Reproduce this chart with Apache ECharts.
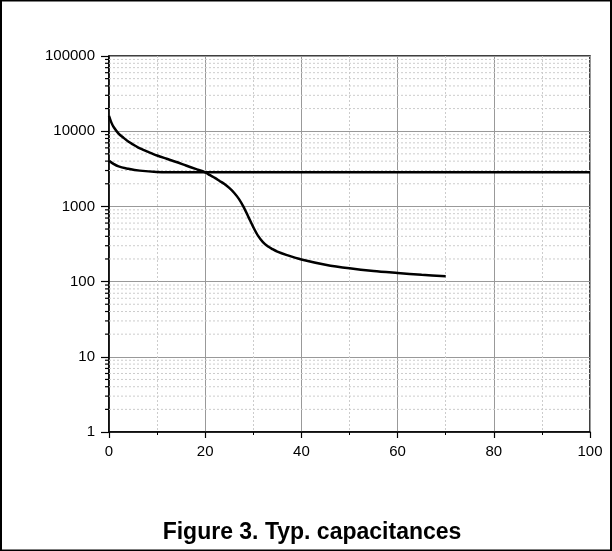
<!DOCTYPE html>
<html>
<head>
<meta charset="utf-8">
<script src="https://cdn.jsdelivr.net/npm/echarts@6/dist/echarts.min.js"></script>
<style>
html,body{margin:0;padding:0;background:#fff;}
#c{width:612px;height:551px;}
</style>
</head>
<body>
<div id="c"></div>
<script>
// Curve 1 (falling capacitance)
const curve1X = [0, 0.5, 1, 2, 3, 4, 5, 6, 7, 8, 10, 12, 14, 16, 18, 20, 21, 22, 23, 24, 25, 26, 27, 28, 29, 30, 31, 32, 33, 34, 35, 37, 40, 45, 50, 55, 60, 65, 70];
const curve1Y = [16000, 13000, 11300, 9300, 8200, 7300, 6650, 6100, 5700, 5350, 4750, 4300, 3900, 3500, 3150, 2840, 2600, 2400, 2180, 1980, 1760, 1520, 1260, 980, 720, 530, 405, 335, 295, 270, 250, 225, 197, 168, 150, 138, 130, 123, 118];
// Curve 2 (flat capacitance)
const curve2X = [0, 1, 2, 3.7, 6.4, 9.9, 15, 100];
const curve2Y = [4040, 3650, 3400, 3200, 2990, 2870, 2840, 2840];
// Axis ticks
const xTicks = [0, 20, 40, 60, 80, 100];
const yTicks = [1, 10, 100, 1000, 10000, 100000];
const minorY = [];
for (let d = 0; d < 5; d++) { for (let m = 2; m <= 9; m++) { minorY.push(m * Math.pow(10, d)); } }
const titleText = 'Figure 3. Typ. capacitances';

const chart = echarts.init(document.getElementById('c'), null, {renderer: 'canvas'});
const font = 'Arial, "Liberation Sans", Helvetica, sans-serif';

chart.setOption({
  animation: false,
  backgroundColor: '#fff',
  grid: {left: 109, right: 22, top: 56, bottom: 119, show: true, borderColor: '#000', borderWidth: 1.5, backgroundColor: 'transparent'},
  xAxis: {
    type: 'value', min: xTicks[0], max: xTicks[xTicks.length - 1], interval: 20,
    axisLine: {show: true, onZero: false, lineStyle: {color: '#000', width: 1.5}},
    axisTick: {show: true, length: 6, lineStyle: {color: '#000', width: 1.2}},
    minorTick: {show: true, splitNumber: 2, length: 3, lineStyle: {color: '#000', width: 1}},
    splitLine: {show: true, lineStyle: {color: '#999', width: 1}},
    minorSplitLine: {show: true, lineStyle: {color: '#ccc', width: 1, type: [2, 2]}},
    axisLabel: {color: '#000', fontSize: 15, fontFamily: font, margin: 12, formatter: v => String(v)}
  },
  yAxis: {
    type: 'log', logBase: 10, min: yTicks[0], max: yTicks[yTicks.length - 1],
    axisLine: {show: true, onZero: false, lineStyle: {color: '#000', width: 1.5}},
    axisTick: {show: true, length: 8, lineStyle: {color: '#000', width: 1.2}},
    splitLine: {show: true, lineStyle: {color: '#999', width: 1}},
    axisLabel: {color: '#000', fontSize: 15, fontFamily: font, margin: 14, formatter: v => String(Math.round(v))}
  },
  graphic: [
    {type: 'rect', shape: {x: 1, y: 0.5, width: 610, height: 550}, style: {fill: 'none', stroke: '#000', lineWidth: 2}, silent: true},
    {type: 'text', x: 312, y: 533, style: {text: titleText, font: 'bold 23px ' + font, fill: '#000', align: 'center', verticalAlign: 'middle'}}
  ],
  series: [
    {
      type: 'custom', silent: true, z: 1,
      data: minorY.map(v => [0, v]),
      renderItem: function (params, api) {
        const v = api.value(1);
        const p0 = api.coord([0, v]);
        const p1 = api.coord([100, v]);
        return {type: 'group', children: [
          {type: 'line', shape: {x1: p0[0], y1: p0[1], x2: p1[0], y2: p1[1]}, style: {stroke: '#ccc', lineWidth: 1, lineDash: [2, 2]}},
          {type: 'line', shape: {x1: p0[0] - 4, y1: p0[1], x2: p0[0], y2: p0[1]}, style: {stroke: '#000', lineWidth: 1.2}}
        ]};
      }
    },
    {
      type: 'line', z: 5, symbol: 'none', smooth: 0.3,
      data: curve1X.map((x, i) => [x, curve1Y[i]]),
      lineStyle: {color: '#000', width: 2.5}
    },
    {
      type: 'line', z: 5, symbol: 'none', smooth: 0.4,
      data: curve2X.map((x, i) => [x, curve2Y[i]]),
      lineStyle: {color: '#000', width: 2.5}
    }
  ]
});
</script>
</body>
</html>
